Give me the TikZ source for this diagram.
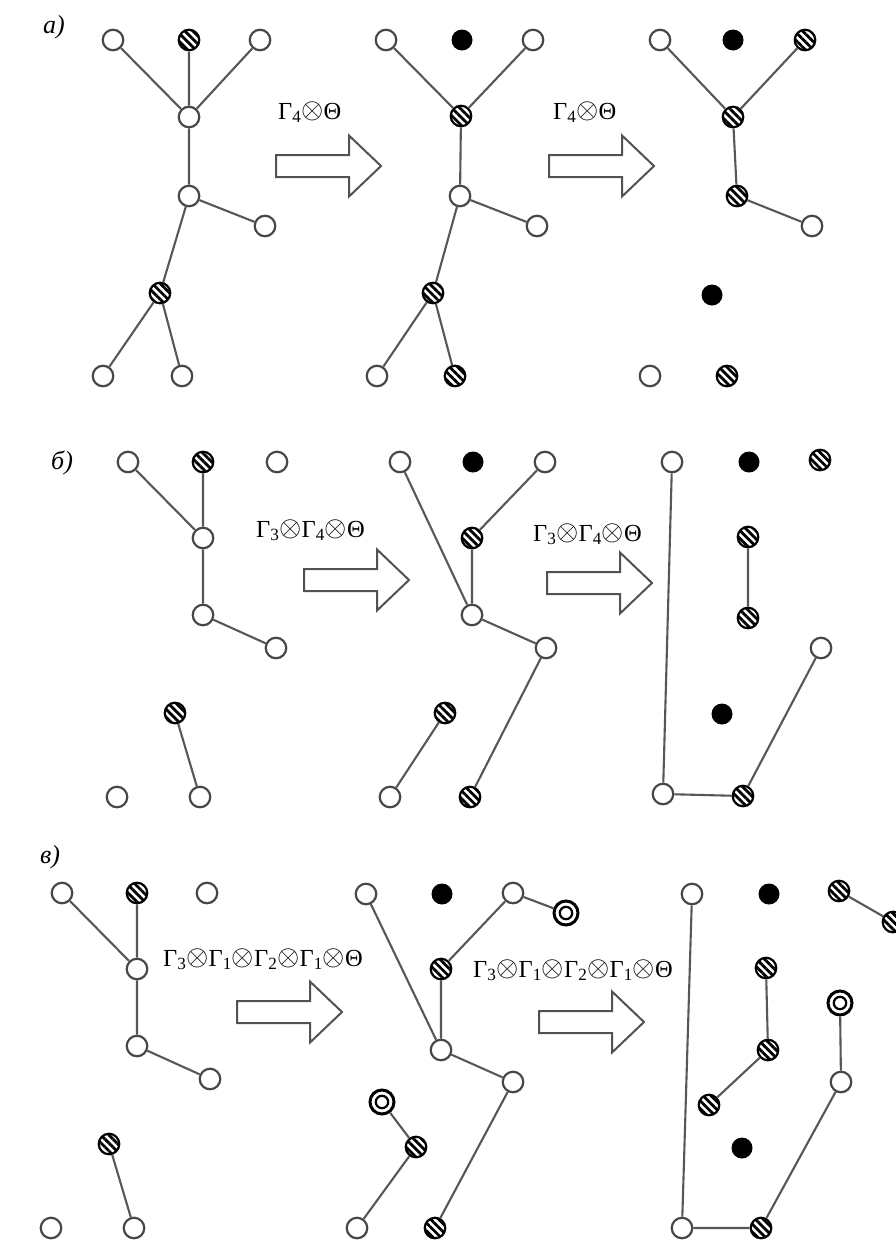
\documentclass[tikz,border=0pt]{standalone}
\usepackage{fontspec}
\setmainfont{Liberation Serif}
\usetikzlibrary{patterns.meta}

% operator labels
\newcommand\Gsub[1]{Γ\textsubscript{#1}}
\newcommand\otm{\raisebox{0.01em}{\scalebox{1.15}{$\otimes$}}}
% hollow block arrow: left end x, axis y
\newcommand\fatarrow[2]{%
  \draw[fat] (#1,#2-11) -- (#1+73,#2-11) -- (#1+73,#2-30.5) -- (#1+105,#2)
    -- (#1+73,#2+30.5) -- (#1+73,#2+11) -- (#1,#2+11) -- cycle;}

\begin{document}
\begin{tikzpicture}[x=1pt,y=-1pt,
  wn/.style={circle, draw=black!72, line width=2.2pt, fill=white, minimum size=20.5pt, inner sep=0pt},
  hn/.style={circle, draw=black, line width=2.2pt, minimum size=20.5pt, inner sep=0pt,
    pattern={Lines[angle=-45,distance=5.6pt,line width=2.8pt]}},
  bn/.style={circle, fill=black, minimum size=21pt, inner sep=0pt},
  dn/.style={circle, draw=black, line width=3pt, fill=white, minimum size=24pt, inner sep=0pt,
    path picture={\draw[black,line width=2.2pt] (path picture bounding box.center) circle (6.2pt);}},
  ed/.style={draw=black!66, line width=2.1pt},
  fat/.style={draw=black!68, line width=2pt, fill=white, line join=miter},
  lab/.style={inner sep=0pt, anchor=base west, font=\fontsize{24.5}{29}\selectfont},
  tag/.style={inner sep=0pt, anchor=base west, font=\fontsize{26}{30}\selectfont\itshape},
]
\useasboundingbox (0,0) rectangle (896,1240);
\clip (0,0) rectangle (896,1240);
\fill[white] (0,0) rectangle (896,1240);

% ---------------- row a ----------------
\node[tag] (ta) at (43,33) {а)};

\node[wn] (a11) at (113,40) {};
\node[hn] (a12) at (189,40) {};
\node[wn] (a13) at (260,40) {};
\node[wn] (a14) at (189,117) {};
\node[wn] (a15) at (189,196) {};
\node[wn] (a16) at (265,226) {};
\node[hn] (a17) at (160,293) {};
\node[wn] (a18) at (103,376) {};
\node[wn] (a19) at (182,376) {};
\draw[ed] (a11) -- (a14) (a12) -- (a14) (a13) -- (a14) (a14) -- (a15)
  (a15) -- (a16) (a15) -- (a17) (a17) -- (a18) (a17) -- (a19);

\node[lab] (la1) at (278,119) {\Gsub{4}\otm Θ};
\fatarrow{276}{166}

\node[wn] (a21) at (386,40) {};
\node[bn] (a22) at (462,40) {};
\node[wn] (a23) at (533,40) {};
\node[hn] (a24) at (461,116) {};
\node[wn] (a25) at (460,196) {};
\node[wn] (a26) at (537,226) {};
\node[hn] (a27) at (433,293) {};
\node[wn] (a28) at (377,376) {};
\node[hn] (a29) at (455,376) {};
\draw[ed] (a21) -- (a24) (a23) -- (a24) (a24) -- (a25) (a25) -- (a26)
  (a25) -- (a27) (a27) -- (a28) (a27) -- (a29);

\node[lab] (la2) at (553,119) {\Gsub{4}\otm Θ};
\fatarrow{549}{166}

\node[wn] (a31) at (660,40) {};
\node[bn] (a32) at (733,40) {};
\node[hn] (a33) at (805,40) {};
\node[hn] (a34) at (733,117) {};
\node[hn] (a35) at (737,196) {};
\node[wn] (a36) at (812,226) {};
\node[bn] (a37) at (712,295) {};
\node[wn] (a38) at (650,376) {};
\node[hn] (a39) at (727,376) {};
\draw[ed] (a31) -- (a34) (a33) -- (a34) (a34) -- (a35) (a35) -- (a36);

% ---------------- row b ----------------
\node[tag] (tb) at (51,469) {б)};

\node[wn] (b11) at (128,462) {};
\node[hn] (b12) at (203,462) {};
\node[wn] (b13) at (277,462) {};
\node[wn] (b14) at (203,538) {};
\node[wn] (b15) at (203,615) {};
\node[wn] (b16) at (276,648) {};
\node[hn] (b17) at (175,713) {};
\node[wn] (b18) at (117,797) {};
\node[wn] (b19) at (200,797) {};
\draw[ed] (b11) -- (b14) (b12) -- (b14) (b14) -- (b15) (b15) -- (b16) (b17) -- (b19);

\node[lab] (lb1) at (256,537) {\Gsub{3}\otm\Gsub{4}\otm Θ};
\fatarrow{304}{580}

\node[wn] (b21) at (400,462) {};
\node[bn] (b22) at (473,462) {};
\node[wn] (b23) at (545,462) {};
\node[hn] (b24) at (472,538) {};
\node[wn] (b25) at (472,615) {};
\node[wn] (b26) at (546,648) {};
\node[hn] (b27) at (445,713) {};
\node[wn] (b28) at (390,797) {};
\node[hn] (b29) at (470,797) {};
\draw[ed] (b21) -- (b25) (b23) -- (b24) (b24) -- (b25) (b25) -- (b26)
  (b26) -- (b29) (b27) -- (b28);

\node[lab] (lb2) at (533,541) {\Gsub{3}\otm\Gsub{4}\otm Θ};
\fatarrow{547}{583}

\node[wn] (b31) at (672,462) {};
\node[bn] (b32) at (749,462) {};
\node[hn] (b33) at (820,460) {};
\node[hn] (b34) at (748,537) {};
\node[hn] (b35) at (748,618) {};
\node[wn] (b36) at (821,648) {};
\node[bn] (b37) at (722,714) {};
\node[wn] (b38) at (663,794) {};
\node[hn] (b39) at (743,796) {};
\draw[ed] (b31) -- (b38) (b38) -- (b39) (b39) -- (b36) (b34) -- (b35);

% ---------------- row c ----------------
\node[tag] (tc) at (40,863) {в)};

\node[wn] (c11) at (62,893) {};
\node[hn] (c12) at (137,893) {};
\node[wn] (c13) at (207,893) {};
\node[wn] (c14) at (137,969) {};
\node[wn] (c15) at (137,1046) {};
\node[wn] (c16) at (210,1079) {};
\node[hn] (c17) at (109,1144) {};
\node[wn] (c18) at (51,1228) {};
\node[wn] (c19) at (134,1228) {};
\draw[ed] (c11) -- (c14) (c12) -- (c14) (c14) -- (c15) (c15) -- (c16) (c17) -- (c19);

\node[lab] (lc1) at (163,966) {\Gsub{3}\otm\Gsub{1}\otm\Gsub{2}\otm\Gsub{1}\otm Θ};
\fatarrow{237}{1012}

\node[wn] (c21) at (366,894) {};
\node[bn] (c22) at (442,894) {};
\node[wn] (c23) at (513,893) {};
\node[dn] (c24) at (566,913) {};
\node[hn] (c25) at (441,969) {};
\node[wn] (c26) at (441,1050) {};
\node[wn] (c27) at (513,1082) {};
\node[dn] (c28) at (382,1102) {};
\node[hn] (c29) at (416,1147) {};
\node[wn] (c2a) at (357,1228) {};
\node[hn] (c2b) at (435,1228) {};
\draw[ed] (c21) -- (c26) (c23) -- (c25) (c23) -- (c24) (c25) -- (c26)
  (c26) -- (c27) (c27) -- (c2b) (c28) -- (c29) (c29) -- (c2a);

\node[lab] (lc2) at (473,977) {\Gsub{3}\otm\Gsub{1}\otm\Gsub{2}\otm\Gsub{1}\otm Θ};
\fatarrow{539}{1022}

\node[wn] (c31) at (692,894) {};
\node[bn] (c32) at (769,894) {};
\node[hn] (c33) at (839,891) {};
\node[hn] (c34) at (893,922) {};
\node[hn] (c35) at (766,968) {};
\node[dn] (c36) at (840,1003) {};
\node[hn] (c37) at (768,1050) {};
\node[hn] (c38) at (709,1105) {};
\node[wn] (c39) at (841,1082) {};
\node[bn] (c3a) at (742,1148) {};
\node[wn] (c3b) at (682,1228) {};
\node[hn] (c3c) at (761,1228) {};
\draw[ed] (c31) -- (c3b) (c3b) -- (c3c) (c3c) -- (c39) (c39) -- (c36)
  (c35) -- (c37) (c37) -- (c38) (c33) -- (c34);
\end{tikzpicture}
\end{document}
